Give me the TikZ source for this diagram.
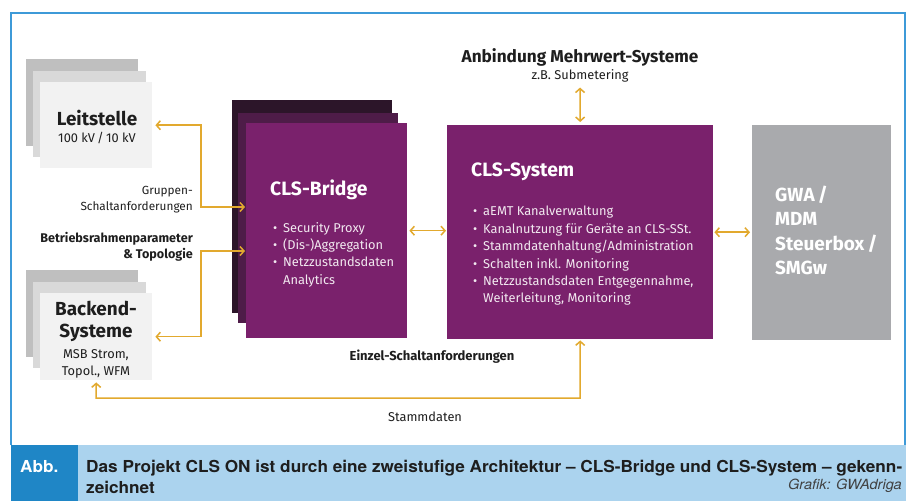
\documentclass[tikz,border=0pt]{standalone}
\usepackage{fontspec}
\setmainfont{Fira Sans}
\newfontfamily\capfont{TeX Gyre Heros}
\usetikzlibrary{arrows.meta,calc}
\definecolor{gold}{HTML}{E2A92E}
\definecolor{purp}{HTML}{7A216C}
\definecolor{purpm}{HTML}{4E1C48}
\definecolor{purpd}{HTML}{2C1529}
\definecolor{gwagray}{HTML}{A9AAAD}
\definecolor{frameblue}{HTML}{3D9AD8}
\definecolor{capblue}{HTML}{ABD3EE}
\definecolor{abbblue}{HTML}{1F86C6}
\definecolor{txt}{HTML}{1E1E1E}
\tikzset{
  layer/.style={draw=none,inner sep=0pt,anchor=north west},
  biarr/.style={draw=gold,line width=1.5pt,{Straight Barb[length=4pt,width=9pt]}-{Straight Barb[length=4pt,width=9pt]}},
  lbl/.style={text=txt,inner sep=0pt,font=\fontsize{12.8}{15}\selectfont},
  blbl/.style={text=txt,inner sep=0pt,font=\fontsize{13}{15}\selectfont\bfseries},
  wtitle/.style={text=white,inner sep=0pt,anchor=west,font=\fontsize{19.3}{22}\selectfont\bfseries},
  wlist/.style={text=white!90!purp,inner sep=0pt,anchor=north west,align=left,font=\fontsize{12.8}{17.4}\selectfont}
}
\newcommand{\bul}{\makebox[10pt][l]{\textbullet}}
\newsavebox\capbox
\begin{document}
\sbox\capbox{\capfont\fontsize{16.5}{20}\selectfont\bfseries Das Projekt CLS ON ist durch eine zweistufige Architektur – CLS-Bridge und CLS-System – gekenn-}%
\pgfmathsetmacro\capsx{816pt/\wd\capbox}%
\begin{tikzpicture}[x=1pt,y=-1pt]
\useasboundingbox (0,0) rectangle (909,501);
\fill[white] (0,0) rectangle (909,501);
% frame
\draw[frameblue,line width=1.2pt] (11,445) -- (11,13) -- (905,13) -- (905,445);
% caption band
\fill[capblue] (78,445) rectangle (906,501);
\fill[abbblue] (11,445) rectangle (78,501);
\node[anchor=base west,text=white,inner sep=0pt,font=\capfont\fontsize{16.5}{20}\selectfont\bfseries] (abb) at (20,472) {\scalebox{\capsx}[1]{Abb.}};
\node[anchor=base west,text=txt,inner sep=0pt,font=\capfont\fontsize{16.5}{20}\selectfont\bfseries] (cap1) at (86,472) {\scalebox{\capsx}[1]{Das Projekt CLS ON ist durch eine zweistufige Architektur – CLS-Bridge und CLS-System – gekenn-}};
\node[anchor=base west,text=txt,inner sep=0pt,font=\capfont\fontsize{16.5}{20}\selectfont\bfseries] (cap2) at (86,493) {\scalebox{\capsx}[1]{zeichnet}};
\node[anchor=base east,text=txt!85,inner sep=0pt,font=\capfont\fontsize{14}{16}\selectfont\itshape] (credit) at (902,489) {\scalebox{\capsx}[1]{Grafik: GWAdriga}};

% Leitstelle stack
\fill[black!25] (26,59) rectangle (138,146);
\fill[black!15] (33,71) rectangle (146,157);
\node[layer,fill=black!5,minimum width=112pt,minimum height=86pt] (le) at (40,82) {};
\node[text=txt,inner sep=0pt,font=\fontsize{18.9}{22}\selectfont\bfseries] (let) at (97,118) {Leitstelle};
\node[lbl] (les) at (97,138) {100 kV\,/\,10 kV};

% Backend stack
\fill[black!25] (26,270) rectangle (138,357);
\fill[black!15] (33,282) rectangle (146,368);
\node[layer,fill=black!5,minimum width=112pt,minimum height=87pt] (be) at (40,293) {};
\node[text=txt,inner sep=0pt,font=\fontsize{18.9}{22}\selectfont\bfseries] (bet1) at (96,308) {Backend-};
\node[text=txt,inner sep=0pt,font=\fontsize{18.9}{22}\selectfont\bfseries] (bet2) at (96,333) {Systeme};
\node[lbl] (bes1) at (96,355) {MSB Strom,};
\node[lbl] (bes2) at (96,372) {Topol., WFM};

% Bridge stack
\fill[purpd] (232,100) rectangle (392,313);
\fill[purpm] (238,113) rectangle (398,323);
\node[layer,fill=purp,minimum width=161pt,minimum height=215pt] (br) at (246,123) {};
\node[wtitle] (brt) at (270,190) {CLS-Bridge};
\node[wlist] (brl) at (273,222) {\bul Security Proxy\\\bul (Dis-)Aggregation\\\bul Netzzustandsdaten\\\hspace*{10pt}Analytics};

% CLS-System
\node[layer,fill=purp,minimum width=266pt,minimum height=214pt] (sys) at (447,125) {};
\node[wtitle] (syst) at (471,172) {CLS-System};
\node[wlist] (sysl) at (473,206) {\bul aEMT Kanalverwaltung\\\bul Kanalnutzung für Geräte an CLS-SSt.\\\bul Stammdatenhaltung/Administration\\\bul Schalten inkl. Monitoring\\\bul Netzzustandsdaten Entgegennahme,\\\hspace*{10pt}Weiterleitung, Monitoring};

% GWA
\node[layer,fill=gwagray,minimum width=139pt,minimum height=215pt] (gwa) at (752,125) {};
\node[text=white,inner sep=0pt,anchor=north west,align=left,font=\fontsize{19}{24.2}\selectfont\bfseries] (gwat) at (775,186) {GWA\,/\\MDM\\Steuerbox\,/\\SMGw};

% Mehrwert
\node[text=txt,inner sep=0pt,font=\fontsize{17.2}{20}\selectfont\bfseries] (mw) at (580,57) {Anbindung Mehrwert-Systeme};
\node[lbl] (mws) at (580,76) {z.B. Submetering};

% labels
\node[lbl,anchor=east,align=right,font=\fontsize{11.8}{15.5}\selectfont] (grp) at (193,199.5) {Gruppen-\\Schaltanforderungen};
\node[blbl,anchor=east,align=right,font=\fontsize{12.6}{16}\selectfont\bfseries] (btr) at (193,247) {Betriebsrahmenparameter\\\& Topologie};
\node[blbl] (einz) at (432,357) {Einzel-Schaltanforderungen};
\node[lbl] (stm) at (425,417) {Stammdaten};

% connectors
\coordinate (j1) at (201,207);
\coordinate (j2) at (201,251);
\coordinate (j3) at (580,398);
\draw[biarr,shorten <=3pt,shorten >=1pt] (le.east) -| (j1) -- (br.west |- j1);
\draw[biarr,shorten <=3pt,shorten >=1pt] (be.east) -| (j2) -- (br.west |- j2);
\draw[biarr,shorten <=2pt,shorten >=1pt] (be.south) |- (j3) -- (sys.south);
\draw[biarr,shorten <=2pt,shorten >=1pt] (br.east) -- (br.east -| sys.west);
\draw[biarr,shorten <=1pt,shorten >=2pt] (sys.east) -- (sys.east -| gwa.west);
\draw[biarr,shorten <=5pt,shorten >=3pt] (mws.south) -- (sys.north);
\end{tikzpicture}
\end{document}
